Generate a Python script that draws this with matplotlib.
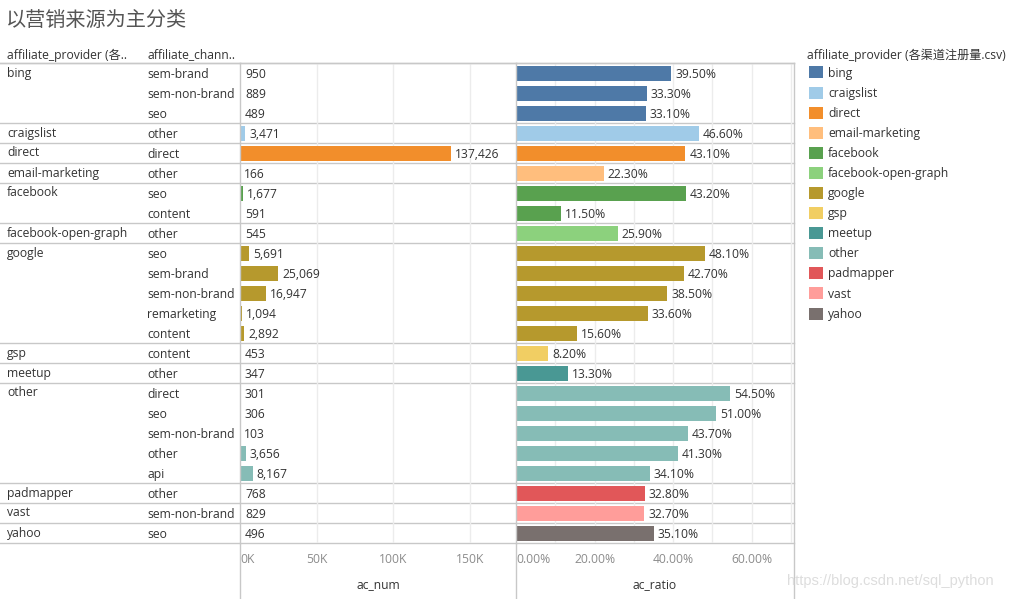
import matplotlib as mpl; mpl.use("Agg")
import matplotlib.pyplot as plt
from matplotlib.patches import Patch
from matplotlib.lines import Line2D

# ---- data ----
providers = ["bing"]*3 + ["craigslist", "direct", "email-marketing"] + ["facebook"]*2 + \
            ["facebook-open-graph"] + ["google"]*5 + ["gsp", "meetup"] + ["other"]*5 + \
            ["padmapper", "vast", "yahoo"]
channels = ["sem-brand", "sem-non-brand", "seo", "other", "direct", "other", "seo", "content",
            "other", "seo", "sem-brand", "sem-non-brand", "remarketing", "content", "content",
            "other", "direct", "seo", "sem-non-brand", "other", "api", "other", "sem-non-brand", "seo"]
ac_num = [950, 889, 489, 3471, 137426, 166, 1677, 591, 545, 5691, 25069, 16947, 1094, 2892,
          453, 347, 301, 306, 103, 3656, 8167, 768, 829, 496]
ac_ratio = [0.395, 0.333, 0.331, 0.466, 0.431, 0.223, 0.432, 0.115, 0.259, 0.481, 0.427, 0.385,
            0.336, 0.156, 0.082, 0.133, 0.545, 0.510, 0.437, 0.413, 0.341, 0.328, 0.327, 0.351]
legend_order = ["bing", "craigslist", "direct", "email-marketing", "facebook", "facebook-open-graph",
                "google", "gsp", "meetup", "other", "padmapper", "vast", "yahoo"]
COLORS = {"bing": "#4E79A7", "craigslist": "#A0CBE8", "direct": "#F28E2B",
          "email-marketing": "#FFBE7D", "facebook": "#59A14F", "facebook-open-graph": "#8CD17D",
          "google": "#B6992D", "gsp": "#F1CE63", "meetup": "#499894", "other": "#86BCB6",
          "padmapper": "#E15759", "vast": "#FF9D9A", "yahoo": "#79706E"}

W, H = 1017, 599
TXT = "#333333"; AXT = "#8c8c8c"; SEP = "#c8c8c8"; GRID = "#ececec"
FAM = ["Open Sans", "Noto Sans CJK SC", "DejaVu Sans"]
CJK = ["Noto Sans CJK SC", "DejaVu Sans"]
FS = 8.7
plt.rcParams["font.family"] = FAM
plt.rcParams["font.size"] = FS

def box(x, y, w, h):  # pixel box (top-left) -> figure fraction
    return [x / W, 1 - (y + h) / H, w / W, h / H]

fig = plt.figure(figsize=(W / 100, H / 100), dpi=100)
n = len(providers)
TOP, ROWH = 63, 20
ax_lab = fig.add_axes(box(0, TOP, 240, n * ROWH))
ax_num = fig.add_axes(box(240, TOP, 276, n * ROWH))
ax_rat = fig.add_axes(box(516, TOP, 278, n * ROWH))
rows = list(range(n))
for ax in (ax_lab, ax_num, ax_rat):
    ax.set_ylim(n - 0.5, -0.5)
    for s in ax.spines.values(): s.set_visible(False)
    ax.set_yticks([])
ax_lab.set_xlim(0, 240); ax_lab.set_xticks([])

DY = -1.5  # nudge text down a little (pixels)
starts = [i for i in rows if i == 0 or providers[i] != providers[i - 1]]
for i in rows:
    ax_lab.annotate(channels[i], (147, i), xytext=(0, DY), textcoords="offset pixels",
                    va="center", ha="left", color=TXT)
for i in starts:
    ax_lab.annotate(providers[i], (7, i), xytext=(0, DY + 1.5), textcoords="offset pixels",
                    va="center", ha="left", color=TXT)
bounds = [s - 0.5 for s in starts] + [n - 0.5]
for ax in (ax_lab, ax_num, ax_rat):
    for b in bounds:
        ax.axhline(b, color=SEP, lw=1, zorder=0, clip_on=False)

cols = [COLORS[p] for p in providers]
# ac_num panel
ax_num.set_xlim(0, 180000)
for g in [50000, 100000, 150000]:
    ax_num.axvline(g, color=GRID, lw=1, zorder=0)
ax_num.barh(rows, ac_num, height=0.75, color=cols, zorder=2)
for i, v in enumerate(ac_num):
    ax_num.annotate(f"{v:,}", (v, i), xytext=(4, DY), textcoords="offset pixels",
                    va="center", ha="left", color=TXT)
ax_num.set_xticks([0, 50000, 100000, 150000], ["0K", "50K", "100K", "150K"])
ax_num.tick_params(axis="x", length=0, pad=7, colors=AXT, labelsize=FS)
ax_num.get_xticklabels()[0].set_ha("left")
ax_num.set_xlabel("ac_num", color=TXT, labelpad=9)

# ac_ratio panel
ax_rat.set_xlim(0, 0.708)
for g in [0.1, 0.2, 0.3, 0.4, 0.5, 0.6, 0.7]:
    ax_rat.axvline(g, color=GRID, lw=1, zorder=0)
ax_rat.barh(rows, ac_ratio, height=0.75, color=cols, zorder=2)
for i, v in enumerate(ac_ratio):
    ax_rat.annotate(f"{v*100:.2f}%", (v, i), xytext=(4, DY), textcoords="offset pixels",
                    va="center", ha="left", color=TXT)
ax_rat.set_xticks([0, 0.2, 0.4, 0.6], ["0.00%", "20.00%", "40.00%", "60.00%"])
ax_rat.tick_params(axis="x", length=0, pad=7, colors=AXT, labelsize=FS)
ax_rat.get_xticklabels()[0].set_ha("left")
ax_rat.set_xlabel("ac_ratio", color=TXT, labelpad=9)

# frame lines (table layout)
fx = lambda x: x / W
fy = lambda y: 1 - y / H
fig.add_artist(Line2D([0, fx(794)], [fy(TOP), fy(TOP)], color=SEP, lw=1))
for x in (240, 516, 794):
    fig.add_artist(Line2D([fx(x), fx(x)], [fy(TOP), 0], color=SEP, lw=1))

# title and headers
fig.text(fx(6), fy(21), "以营销来源为主分类", fontsize=14.5, color="#555555",
         family=CJK, va="center", ha="left")
fig.text(fx(7), fy(55), "affiliate_provider (各..", color=TXT, va="center", ha="left")
fig.text(fx(147), fy(55), "affiliate_chann..", color=TXT, va="center", ha="left")

# legend
fig.text(fx(807), fy(55), "affiliate_provider (各渠道注册量.csv)", color=TXT,
         va="center", ha="left")
handles = [Patch(facecolor=COLORS[p], edgecolor="none", label=p) for p in legend_order]
leg = fig.legend(handles=handles, loc="upper left", bbox_to_anchor=(fx(807), fy(64)),
                 frameon=False, handlelength=1.15, handleheight=1.15,
                 handletextpad=0.4, labelspacing=0.58, borderaxespad=0, borderpad=0.2)
for t in leg.get_texts(): t.set_color(TXT)

# watermark
fig.text(fx(787), fy(581), "https://blog.csdn.net/sql_python", color="#dddddd",
         fontsize=10.5, family="Liberation Sans", va="center", ha="left")

fig.savefig("out.png", dpi=100)
